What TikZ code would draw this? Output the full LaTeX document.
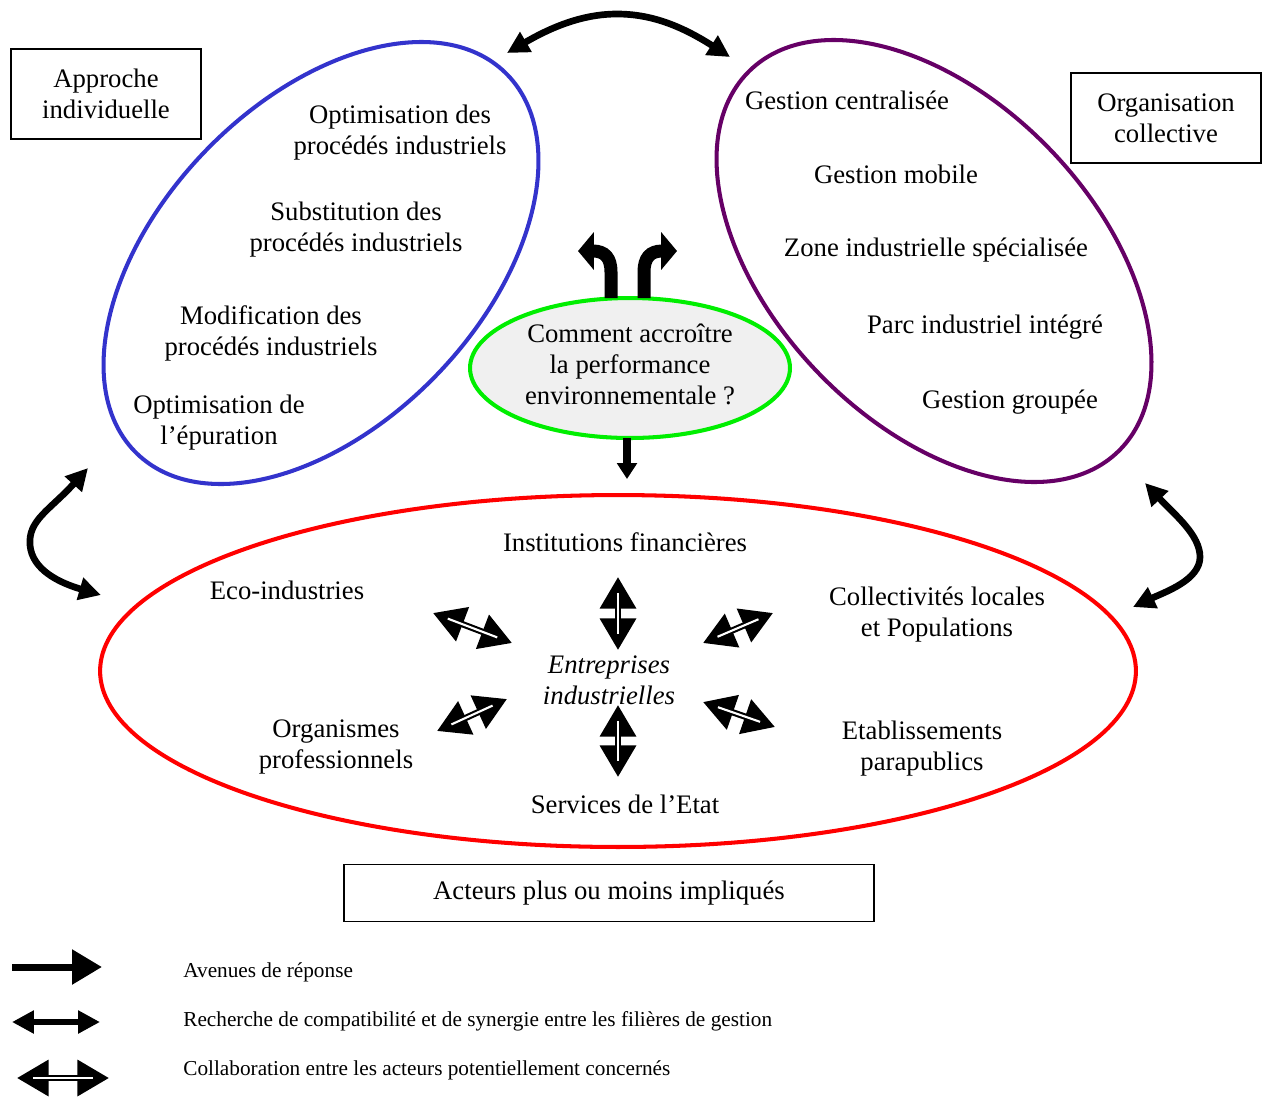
\documentclass[tikz,border=0pt]{standalone}
\usepackage{fontspec}
\setmainfont{Liberation Serif}
\usetikzlibrary{arrows.meta,shapes.geometric}

\definecolor{approcheblue}{HTML}{3333CC}
\definecolor{orgpurple}{HTML}{660066}
\definecolor{questgreen}{HTML}{00EE00}
\definecolor{questfill}{HTML}{F0F0F0}

\tikzset{
  lbl/.style={align=center, inner sep=0pt, font=\fontsize{15.2}{17.6}\selectfont},
  legendtxt/.style={anchor=west, inner sep=0pt, font=\fontsize{12.1}{14}\selectfont},
  cadre/.style={draw, line width=0.8pt, minimum width=3.8cm, minimum height=1.8cm, align=center, inner sep=0pt, font=\fontsize{15.2}{17.6}\selectfont},
  groupe/.style={draw, ellipse, line width=2.3pt, inner sep=0pt},
  avenue/.style={line width=4pt, -{Triangle[length=17pt,width=19pt]}},
  bentavenue/.style={line width=7.4pt, -{Triangle[length=9pt,width=21pt]}},
  synergie/.style={line width=3.8pt, {Triangle[length=12.5pt,width=12.5pt]}-{Triangle[length=12.5pt,width=12.5pt]}},
  collab/.style={line width=3.6pt, {Triangle[length=18pt,width=20pt]}-{Triangle[length=18pt,width=20pt]},
    postaction={draw=white, line width=1.2pt, -, shorten <=9pt, shorten >=9pt}},
}

\begin{document}
\begin{tikzpicture}[x=0.02cm, y=-0.02cm]
  \useasboundingbox (0,0) rectangle (1263,1099);

  % The three families of answers
  \node[groupe, draw=approcheblue, rotate=46, minimum width=10.6cm, minimum height=6.44cm] (approche) at (321,263) {};
  \node[groupe, draw=orgpurple, rotate=-46, minimum width=10.6cm, minimum height=6.44cm] (organisation) at (934,261) {};
  \node[groupe, draw=red, minimum width=20.72cm, minimum height=7.04cm] (acteurs) at (618,671) {};

  % Central question
  \node[groupe, draw=questgreen, fill=questfill, minimum width=6.4cm, minimum height=2.8cm] (question) at (630,368) {};
  \node[lbl] (questiontxt) at (630,364) {Comment accroître\\la performance\\environnementale ?};

  % Titles in boxes
  \node[cadre] (individuelle) at (106,94) {Approche\\individuelle};
  \node[cadre] (collective) at (1166,118) {Organisation\\collective};
  \node[cadre, minimum width=10.6cm, minimum height=1.14cm] (impliques) at (609,893) {Acteurs plus ou moins impliqués};

  % Inside the blue ellipse
  \node[lbl] (optproc) at (400,133) {Optimisation des\\procédés industriels};
  \node[lbl] (subst) at (356,230) {Substitution des\\procédés industriels};
  \node[lbl] (modif) at (271,333) {Modification des\\procédés industriels};
  \node[lbl] (epur) at (219,423) {Optimisation de\\l’épuration};

  % Inside the purple ellipse
  \node[lbl] (centr) at (847,100) {Gestion centralisée};
  \node[lbl] (mobile) at (896,174) {Gestion mobile};
  \node[lbl] (zone) at (936,250) {Zone industrielle spécialisée};
  \node[lbl] (parc) at (985,327) {Parc industriel intégré};
  \node[lbl] (groupee) at (1010,402) {Gestion groupée};

  % Inside the red ellipse
  \node[lbl] (instit) at (625,542) {Institutions financières};
  \node[lbl] (eco) at (287,590) {Eco-industries};
  \node[lbl] (collect) at (937,615) {Collectivités locales\\et Populations};
  \node[lbl, font=\fontsize{15.2}{17.6}\selectfont\itshape] (entreprises) at (609,680) {Entreprises\\industrielles};
  \node[lbl] (organismes) at (336,747) {Organismes\\professionnels};
  \node[lbl] (etabl) at (922,749) {Etablissements\\parapublics};
  \node[lbl] (services) at (625,804) {Services de l’Etat};

  % Answers coming out of the question
  \coordinate (qg0) at (611,298);
  \coordinate (qg1) at (578,251);
  \coordinate (qd0) at (644,298);
  \coordinate (qd1) at (677,251);
  \coordinate (qb0) at (627,438);
  \coordinate (qb1) at (627,479);
  \draw[bentavenue] (qg0) -- (611,272) .. controls (611,258) and (605,251) .. (qg1);
  \draw[bentavenue] (qd0) -- (644,272) .. controls (644,258) and (650,251) .. (qd1);
  \draw[line width=4.5pt, -{Triangle[length=9pt,width=11pt]}] (qb0) -- (qb1);

  % Links between the families
  \coordinate (ta1) at (507,53);
  \coordinate (ta2) at (730,57);
  \coordinate (la1) at (88,468);
  \coordinate (la2) at (101,595);
  \coordinate (ra1) at (1145,483);
  \coordinate (ra2) at (1133,607);
  \draw[synergie] (ta1) .. controls (560,22) and (590,14) .. (617,14) .. controls (650,14) and (680,25) .. (ta2);
  \draw[synergie] (la1) .. controls (50,510) and (28,520) .. (30,545) .. controls (32,570) and (60,583) .. (la2);
  \draw[synergie] (ra1) .. controls (1175,515) and (1200,535) .. (1200,557) .. controls (1200,580) and (1165,592) .. (ra2);

  % Collaboration around the firms
  \coordinate (c1a) at (618,577);  \coordinate (c1b) at (618,650);
  \coordinate (c2a) at (618,705);  \coordinate (c2b) at (618,777);
  \coordinate (c3a) at (433,613);  \coordinate (c3b) at (512,643);
  \coordinate (c4a) at (703,643);  \coordinate (c4b) at (773,613);
  \coordinate (c5a) at (437,731);  \coordinate (c5b) at (507,699);
  \coordinate (c6a) at (703,702);  \coordinate (c6b) at (775,727);
  \draw[collab] (c1a) -- (c1b);
  \draw[collab] (c2a) -- (c2b);
  \draw[collab] (c3a) -- (c3b);
  \draw[collab] (c4a) -- (c4b);
  \draw[collab] (c5a) -- (c5b);
  \draw[collab] (c6a) -- (c6b);

  % Legend
  \coordinate (lg1a) at (12,967);   \coordinate (lg1b) at (102,967);
  \coordinate (lg2a) at (12,1022);  \coordinate (lg2b) at (100,1022);
  \coordinate (lg3a) at (17,1078);  \coordinate (lg3b) at (109,1078);
  \draw[avenue] (lg1a) -- (lg1b);
  \draw[synergie] (lg2a) -- (lg2b);
  \draw[collab] (lg3a) -- (lg3b);
  \node[legendtxt] (lgtxt1) at (183,972) {Avenues de réponse};
  \node[legendtxt] (lgtxt2) at (183,1021) {Recherche de compatibilité et de synergie entre les filières de gestion};
  \node[legendtxt] (lgtxt3) at (183,1070) {Collaboration entre les acteurs potentiellement concernés};

\end{tikzpicture}
\end{document}
